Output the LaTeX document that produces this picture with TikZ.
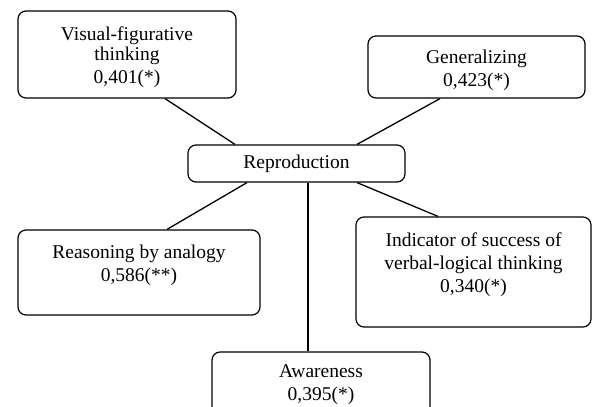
\documentclass[tikz,border=0pt]{standalone}
\usepackage{fontspec}
\setmainfont{Liberation Serif}
\newcommand{\lowpad}[1]{\rule[-#1]{0pt}{#1}}

\begin{document}
\begin{tikzpicture}[x=1pt,y=-1pt,
  factor/.style={draw,rounded corners=8pt,line width=1.2pt,align=center,inner sep=0pt,
    font=\fontsize{19.5}{23}\selectfont},
  link/.style={line width=1.3pt}]
\useasboundingbox (0,0) rectangle (592,407);
\clip (0,0) rectangle (592,407);

\node[factor,minimum width=218,minimum height=87] (vis) at (127,54.5) {\rule{0pt}{19pt}Visual-figurative\\[-3pt]thinking\\0,401(*)};
\node[factor,minimum width=217,minimum height=62] (gen) at (476.5,67) {\rule{0pt}{21pt}Generalizing\\0,423(*)};
\node[factor,minimum width=217,minimum height=37] (rep) at (296.5,163.5) {Reproduction};
\node[factor,minimum width=242,minimum height=85] (rsn) at (139,272.5) {Reasoning by analogy\\0,586(**)\lowpad{18pt}};
\node[factor,minimum width=235,minimum height=110] (ind) at (473.5,272) {Indicator of success of\\verbal-logical thinking\\0,340(*)\lowpad{19pt}};
\node[factor,minimum width=218,minimum height=85] (awr) at (321,394.5) {Awareness\\0,395(*)\lowpad{24pt}};

\draw[link] ([xshift=38pt]vis.south) -- ([xshift=-61.5pt]rep.north);
\draw[link] ([xshift=-36.5pt]gen.south) -- ([xshift=60.5pt]rep.north);
\draw[link] ([xshift=-49.5pt]rep.south) -- ([xshift=28pt]rsn.north);
\draw[link] ([xshift=60.5pt]rep.south) -- ([xshift=-35.5pt]ind.north);
\draw[link] ([xshift=11.5pt]rep.south) -- ([xshift=11.5pt]rep.south |- awr.north);
\end{tikzpicture}
\end{document}
